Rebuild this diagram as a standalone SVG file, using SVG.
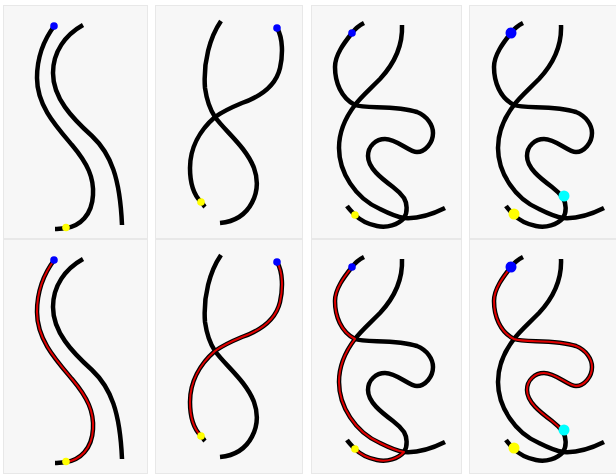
<svg xmlns="http://www.w3.org/2000/svg" width="616" height="475" viewBox="0 0 616 475">
<style>
.bg{fill:#f7f7f7;stroke:#e8e8e8;stroke-width:1}
.k{fill:none;stroke:#000;stroke-width:4.5}
.r{fill:none;stroke:#e00000;stroke-width:2;stroke-linejoin:round}
.b{fill:#0000ff}.y{fill:#ffff00}.c{fill:#00ffff}
</style>
<defs>
<path id="A" d="M55,25 C45,38 37,55 37,78 C37,105 55,125 72,145 C88,164 94,178 93,195 C92,215 80,226 66,228 C62,228.5 58,229 55,229"/>
<path id="B" d="M83,25 C65,35 53,52 53,73 C53,98 72,118 92,136 C111,154 120,178 122,225"/>
<path id="C" d="M221,21 C210,37 203,62 205,88 C207,102 211,111 215,117 C225,131 246,147 254,168 C262,190 252,220 220,223"/>
<path id="D" d="M277,28 C283,38 283,55 280,68 C276,85 262,96 242,103 C230,108 222,112 215,117 C200,130 190,148 190,168 C190,184 194,195 201,202 C203,204 204,206 205,207"/>
<path id="E" d="M59,23 C55,25 50,29 47,33 C39,43 30,55 30,67 C30,82 36,98 50,105 C60,109 90,105 112,112 C122,116 128,125 128,133 C128,143 120,152 112,152 C104,152 92,139 80,139 C71,139 63,146 63,156 C63,168 76,178 88,187 C92,190 96,194 99,198 C102,203 103,212 99,218 C93,225 82,228 72,226 C62,224 54,219 50,215 C47,212 44,209 42,206"/>
<path id="F" d="M97,25 C98,48 88,65 75,79 C63,91 55,98 50,105 C40,118 34,132 34,148 C34,172 50,198 75,209 C85,214 92,217 99,218 C112,219 128,214 140,208"/>
</defs>
<rect width="616" height="475" fill="#ffffff"/>
<g id="panel1">
<rect class="bg" x="3.5" y="5.5" width="144" height="233"/>
<use href="#A" class="k"/><use href="#B" class="k"/>
<circle class="b" cx="54" cy="26" r="3.8"/><circle class="y" cx="66" cy="227.5" r="3.8"/>
</g>
<g id="panel2">
<rect class="bg" x="155.5" y="5.5" width="147" height="233"/>
<use href="#C" class="k"/><use href="#D" class="k"/>
<circle class="b" cx="277" cy="28" r="3.8"/><circle class="y" cx="201" cy="202" r="3.8"/>
</g>
<g id="panel3" transform="translate(305,0)">
<rect class="bg" x="6.5" y="5.5" width="150" height="233"/>
<use href="#E" class="k"/><use href="#F" class="k"/>
<circle class="b" cx="47" cy="33" r="3.8"/><circle class="y" cx="50" cy="215" r="3.8"/>
</g>
<g id="panel4" transform="translate(464,0)">
<rect class="bg" x="5.5" y="5.5" width="150" height="233"/>
<use href="#E" class="k"/><use href="#F" class="k"/>
<circle class="b" cx="47" cy="33" r="5.5"/><circle class="y" cx="50" cy="214" r="5.5"/><circle class="c" cx="100" cy="196" r="5.5"/>
</g>
<g id="panel5" transform="translate(0,234)">
<rect class="bg" x="3.5" y="5.5" width="144" height="234"/>
<use href="#A" class="k"/><use href="#B" class="k"/>
<path class="r" d="M55,25 C45,38 37,55 37,78 C37,105 55,125 72,145 C88,164 94,178 93,195 C92,215 80,226 66,228"/>
<circle class="b" cx="54" cy="26" r="3.8"/><circle class="y" cx="66" cy="227.5" r="3.8"/>
</g>
<g id="panel6" transform="translate(0,234)">
<rect class="bg" x="155.5" y="5.5" width="147" height="234"/>
<use href="#C" class="k"/><use href="#D" class="k"/>
<path class="r" d="M277,28 C283,38 283,55 280,68 C276,85 262,96 242,103 C230,108 222,112 215,117 C200,130 190,148 190,168 C190,184 194,195 201,202"/>
<circle class="b" cx="277" cy="28" r="3.8"/><circle class="y" cx="201" cy="202" r="3.8"/>
</g>
<g id="panel7" transform="translate(305,234)">
<rect class="bg" x="6.5" y="5.5" width="150" height="234"/>
<use href="#E" class="k"/><use href="#F" class="k"/>
<path class="r" d="M47,33 C39,43 30,55 30,67 C30,82 36,98 50,105 C40,118 34,132 34,148 C34,172 50,198 75,209 C85,214 92,217 99,218 C93,225 82,228 72,226 C62,224 54,219 50,215"/>
<circle class="b" cx="47" cy="33" r="3.8"/><circle class="y" cx="50" cy="215" r="3.8"/>
</g>
<g id="panel8" transform="translate(464,234)">
<rect class="bg" x="5.5" y="5.5" width="150" height="234"/>
<use href="#E" class="k"/><use href="#F" class="k"/>
<path class="r" d="M47,33 C39,43 30,55 30,67 C30,82 36,98 50,105 C60,109 90,105 112,112 C122,116 128,125 128,133 C128,143 120,152 112,152 C104,152 92,139 80,139 C71,139 63,146 63,156 C63,168 76,178 88,187 C92,190 96,194 99,198"/>
<circle class="b" cx="47" cy="33" r="5.5"/><circle class="y" cx="50" cy="214" r="5.5"/><circle class="c" cx="100" cy="196" r="5.5"/>
</g>
</svg>
